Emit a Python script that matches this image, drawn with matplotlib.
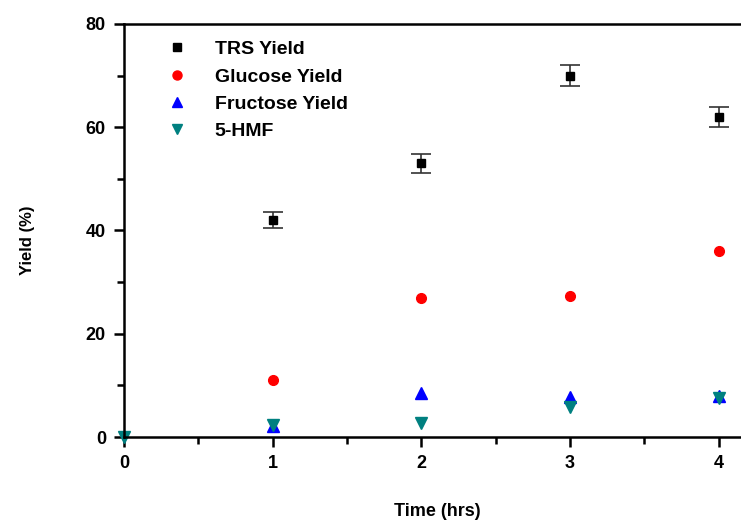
import matplotlib
matplotlib.use("Agg")
import matplotlib.pyplot as plt
from matplotlib.ticker import MultipleLocator
from matplotlib.lines import Line2D

plt.rcParams['font.family'] = ['Liberation Sans', 'DejaVu Sans']
plt.rcParams['font.weight'] = 'bold'

time_trs = [1, 2, 3, 4]
trs = [42, 53, 70, 62]
trs_err = [1.5, 1.8, 2.0, 2.0]
time_glu = [1, 2, 3, 4]
glucose = [11, 27, 27.4, 36]
time_fru = [1, 2, 3, 4]
fructose = [2.2, 8.5, 7.8, 8.0]
time_hmf = [0, 1, 2, 3, 4]
hmf = [0, 2.4, 2.8, 5.8, 7.6]

fig = plt.figure(figsize=(7.41, 5.21), dpi=100)
ax = fig.add_axes([124/741, (521-437)/521, (741-124)/741 + 0.01, (437-24)/521])

ax.errorbar(time_trs, trs, yerr=trs_err, fmt='s', color='black', ms=6,
            ecolor='#333333', elinewidth=1.2, capsize=7, capthick=1.2, clip_on=False)
ax.plot(time_glu, glucose, 'o', color='#ff0000', ms=7, clip_on=False)
ax.plot(time_fru, fructose, '^', color='#0000ff', ms=8, clip_on=False)
ax.plot(time_hmf, hmf, 'v', color='#008080', ms=8, clip_on=False)

ax.set_xlim(0, 4.2)
ax.set_ylim(0, 80)
ax.xaxis.set_major_locator(MultipleLocator(1))
ax.xaxis.set_minor_locator(MultipleLocator(0.5))
ax.yaxis.set_major_locator(MultipleLocator(20))
ax.yaxis.set_minor_locator(MultipleLocator(10))
ax.tick_params(which='both', direction='out', width=1.8, labelsize=13)
ax.tick_params(which='major', length=7, pad=6)
ax.tick_params(which='minor', length=5)
ax.spines['right'].set_visible(False)
for s in ['left', 'bottom', 'top']:
    ax.spines[s].set_linewidth(1.8)
for lab in ax.get_xticklabels() + ax.get_yticklabels():
    lab.set_fontweight('bold')

ax.set_xlabel('Time (hrs)', fontsize=13, fontweight='bold', va='center')
ax.set_ylabel('Yield (%)', fontsize=12, fontweight='bold', va='center')
ax.xaxis.set_label_coords((437-124)/624, -75/413)
ax.yaxis.set_label_coords(-96/624, (437-240)/413)

handles = [
    Line2D([], [], ls='none', marker='s', color='black', ms=5.5),
    Line2D([], [], ls='none', marker='o', color='#ff0000', ms=6.5),
    Line2D([], [], ls='none', marker='^', color='#0000ff', ms=6.5),
    Line2D([], [], ls='none', marker='v', color='#008080', ms=6.5),
]
labels = ['TRS Yield', 'Glucose Yield', 'Fructose Yield', '5-HMF']
leg = ax.legend(handles, labels, loc='upper left', bbox_to_anchor=(0.033, 1.002), frameon=False,
                fontsize=14, handletextpad=1.2, labelspacing=0.5, handlelength=1.5)
for t in leg.get_texts():
    t.set_fontweight('bold')

fig.savefig('out.png', dpi=100)
